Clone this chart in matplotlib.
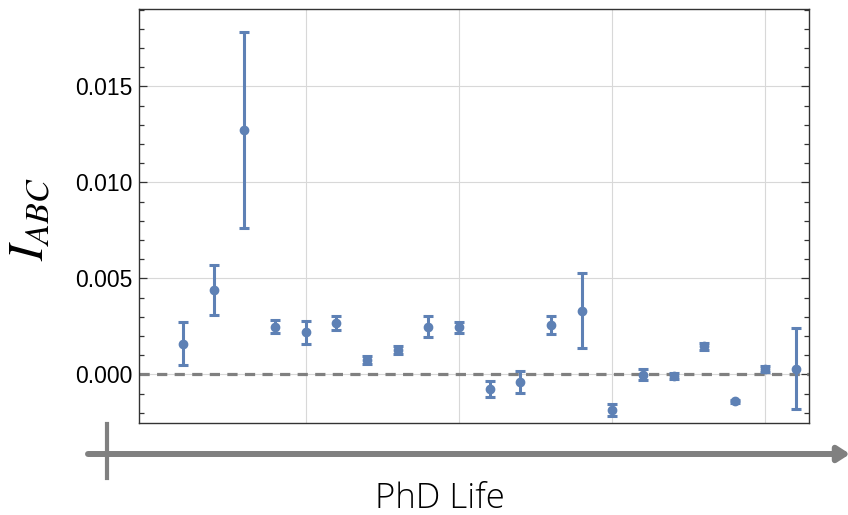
import numpy as np
import matplotlib
matplotlib.use("Agg")
import matplotlib.pyplot as plt
from matplotlib.patches import FancyArrowPatch
from matplotlib.lines import Line2D
from matplotlib.ticker import MultipleLocator, FixedLocator

# data
idx = np.arange(1, 22)
vals = [0.00160, 0.00440, 0.01272, 0.00249, 0.00218, 0.00267, 0.00075, 0.00126,
        0.00249, 0.00245, -0.00078, -0.00040, 0.00257, 0.00332, -0.00187, -0.00002,
        -0.00008, 0.00146, -0.00141, 0.00027, 0.00030]
errs = [0.00113, 0.00131, 0.00511, 0.00034, 0.00058, 0.00035, 0.00020, 0.00021,
        0.00056, 0.00028, 0.00042, 0.00056, 0.00045, 0.00195, 0.00030, 0.00030,
        0.00015, 0.00019, 0.00008, 0.00016, 0.00210]
xgrid = [5, 10, 15, 20]

blue = "#5E81B5"
W, H = 848, 515

plt.rcParams['mathtext.fontset'] = 'stix'
fig = plt.figure(figsize=(W/100, H/100), dpi=100)
ax = fig.add_axes([139.3/W, 1-422.7/H, (809.3-139.3)/W, (422.7-9)/H])

ax.axhline(0, color="#808080", lw=2.3, ls=(0, (3.2, 2.3)), zorder=2)
ax.errorbar(idx, vals, yerr=errs, fmt='o', color=blue, ms=6, elinewidth=2.2,
            capsize=3.5, capthick=2.2, zorder=3)

ax.set_xlim(-0.43, 21.43)
ax.set_ylim(-0.00252, 0.01903)

ax.xaxis.set_major_locator(FixedLocator(xgrid))
ax.yaxis.set_major_locator(MultipleLocator(0.005))
ax.yaxis.set_minor_locator(MultipleLocator(0.001))
ax.grid(True, which='major', color="#d8d8d8", lw=0.8, zorder=0)
ax.set_axisbelow(True)

ax.tick_params(axis='x', which='both', length=0, labelbottom=False)
ax.tick_params(axis='y', which='both', direction='in', left=True, right=True,
               width=0.9, color='#333333', labelsize=16.5, pad=5)
ax.tick_params(axis='y', which='major', length=5.5)
ax.tick_params(axis='y', which='minor', length=3.3)
ax.yaxis.set_major_formatter(matplotlib.ticker.FuncFormatter(lambda v, p: f"{v:.3f}"))
for lab in ax.get_yticklabels():
    lab.set_fontfamily('Liberation Sans')
for s in ax.spines.values():
    s.set_color('#333333')
    s.set_linewidth(1.0)

fig.text(29/W, 1-219/H, r"$I_{ABC}$", rotation=90, ha='center', va='center', fontsize=35)

# time arrow below the axes
arr = FancyArrowPatch((88/W, 1-454/H), (850/W, 1-454/H), transform=fig.transFigure,
                      arrowstyle='-|>,head_length=7,head_width=4.5', mutation_scale=1,
                      color='#808080', lw=4.3, shrinkA=0, shrinkB=0)
fig.add_artist(arr)
fig.add_artist(Line2D([107/W, 107/W], [1-424/H, 1-478/H], transform=fig.transFigure,
                      color='#808080', lw=3))
fig.text(440/W, 1-508/H, "PhD Life", ha='center', va='baseline', fontsize=25,
         fontfamily='Open Sans', fontweight='light', color='black')

fig.savefig("out.png", dpi=100)
